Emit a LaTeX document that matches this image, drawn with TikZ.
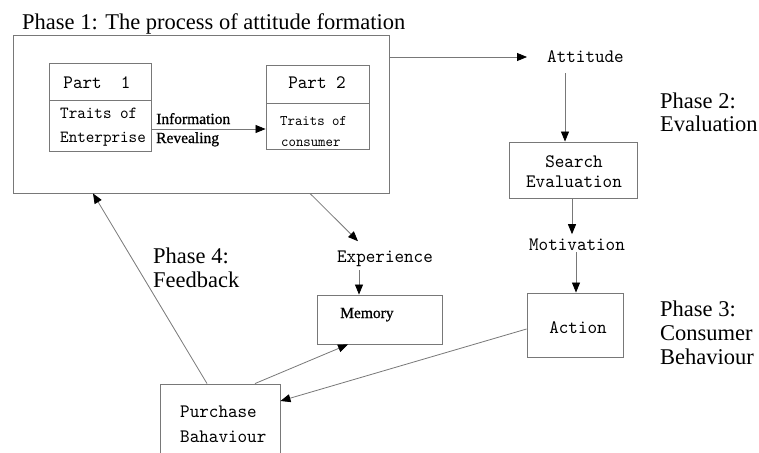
\documentclass[tikz,border=0pt]{standalone}
\usepackage{fontspec}
\setmainfont{Liberation Serif}
\newfontfamily\monof[Extension=.otf, FakeStretch=0.96]{lmmono10-regular}
\newfontfamily\semib[FakeBold=0.8]{Liberation Serif}
\usetikzlibrary{arrows.meta,calc}
\definecolor{edge}{RGB}{120,120,120}
\tikzset{
  boxn/.style={draw=edge, line width=0.9pt, inner sep=0pt},
  mono/.style={font=\monof\fontsize{19}{24}\selectfont, inner sep=0pt, anchor=base},
  monol/.style={font=\monof\fontsize{#1}{24}\selectfont, inner sep=0pt, anchor=base west},
  phase/.style={font=\fontsize{22.5}{25}\selectfont, inner sep=0pt, anchor=base west},
  small/.style={font=\semib\fontsize{15.5}{16}\selectfont, inner sep=0pt, anchor=base west},
  conn/.style={draw=edge, line width=0.8pt},
  arr/.style={conn, -{Triangle[length=10pt,width=8pt,color=black]}},
}
\begin{document}
\begin{tikzpicture}[x=1pt,y=-1pt]
\clip (0,0) rectangle (759,452);
\fill[white] (0,0) rectangle (759,452);

% title
\node[phase] (t1) at (22,30) {Phase 1: The process of attitude formation};
\node[boxn, minimum width=376pt, minimum height=158pt] (big) at (201,114) {};

% part 1
\node[boxn, minimum width=102pt, minimum height=37pt] (p1h) at (100,81.5) {};
\node[boxn, minimum width=102pt, minimum height=51pt] (p1b) at (100,125.5) {};
\node[mono] (p1t) at (97,88) {Part\ \ 1};
\node[monol=17] (p1a) at (60,118) {Traits of};
\node[monol=17] (p1c) at (60,142) {Enterprise};

% part 2
\node[boxn, minimum width=103pt, minimum height=38pt] (p2h) at (317.5,84) {};
\node[boxn, minimum width=103pt, minimum height=46pt] (p2b) at (317.5,126) {};
\node[mono] (p2t) at (317,88) {Part 2};
\node[monol=14.7] (p2a) at (280,125) {Traits of};
\node[monol=14.7] (p2c) at (281,146) {consumer};

% information revealing
\node[small] (inf) at (156,124) {Information};
\node[small] (rev) at (156,143) {Revealing};
\coordinate (yinf) at (0,129);
\draw[arr] (p1b.east |- yinf) -- (p2b.west |- yinf);

% right column
\node[monol=19] (att) at (547,63) {Attitude};
\node[boxn, minimum width=128pt, minimum height=56pt] (search) at (573,170) {};
\node[mono] (s1) at (574,167) {Search};
\node[mono] (s2) at (574,187) {Evaluation};
\node[mono] (mot) at (577,250) {Motivation};
\node[boxn, minimum width=96pt, minimum height=64pt] (action) at (575,325) {};
\node[mono] (act) at (578,333) {Action};

% phases
\node[phase] (ph2a) at (660,108) {Phase 2:};
\node[phase] (ph2b) at (660,131) {Evaluation};
\node[phase] (ph3a) at (660,316) {Phase 3:};
\node[phase] (ph3b) at (660,340) {Consumer};
\node[phase] (ph3c) at (660,364) {Behaviour};
\node[phase] (ph4a) at (153,263) {Phase 4:};
\node[phase] (ph4b) at (153,287) {Feedback};

% experience / memory
\node[mono] (exp) at (385,262) {Experience};
\node[boxn, minimum width=125pt, minimum height=49pt] (memory) at (379.5,319.5) {};
\node[small] (mem) at (340,318) {Memory};

% purchase
\node[boxn, minimum width=120pt, minimum height=80pt] (purchase) at (220,424) {};
\node[monol=19] (pu1) at (180,417) {Purchase};
\node[monol=19] (pu2) at (180,442) {Bahaviour};

% connectors
\coordinate (y57) at (0,57);
\draw[arr, shorten >=20pt] (big.east |- y57) -- (att.west |- y57);
\coordinate (x565) at (565,0);
\draw[arr, shorten <=10pt] (att.south -| x565) -- (search.north -| x565);
\coordinate (x572) at (572,0);
\draw[arr, shorten >=4pt] (search.south -| x572) -- (mot.north -| x572);
\coordinate (x576) at (576,0);
\draw[arr, shorten <=2pt] (mot.south -| x576) -- (action.north -| x576);

\coordinate (x310) at (310,0);
\draw[arr] (big.south -| x310) -- ($(exp.north)+(-27,-9)$);
\coordinate (x359) at (359,0);
\draw[arr, shorten <=4pt] (exp.south -| x359) -- (memory.north -| x359);

\coordinate (x255) at (255,0);
\coordinate (x348) at (348,0);
\draw[arr] (purchase.north -| x255) -- (memory.south -| x348);

\coordinate (y329) at (0,329);
\coordinate (y401) at (0,401);
\draw[arr] (action.west |- y329) -- (purchase.east |- y401);

\coordinate (x207) at (207,0);
\coordinate (x93) at (93,0);
\draw[arr] (purchase.north -| x207) -- (big.south -| x93);
\end{tikzpicture}
\end{document}
